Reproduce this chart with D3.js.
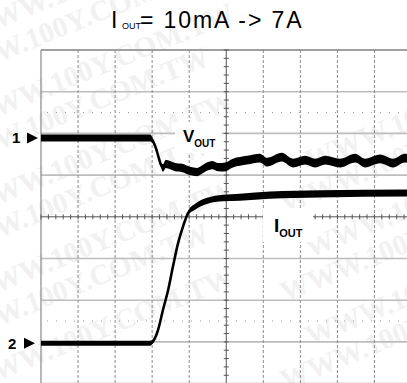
<!DOCTYPE html>
<html>
<head>
<meta charset="utf-8">
<script src="https://cdn.jsdelivr.net/npm/d3@7"></script>
<style>
  body { margin: 0; background: #fff; }
  svg { display: block; }
</style>
</head>
<body>
<svg id="scope"></svg>
<script>
// Scope capture: Vout / Iout load step, values in screen divisions

const W = 407, H = 383;

// grid: 10 horizontal divisions, 8 vertical (centre = 0)
const xDivs = d3.range(0, 11);
const yDivs = d3.range(-4, 5);
const dottedLevels = [2.5, -2.5];

// channel 1 (Vout), time in divisions, level in divisions, noise band p-p in divisions
const voutTime  = [0, 2.94, 3.02, 3.10, 3.18, 3.24, 3.29, 3.37, 3.48, 3.62, 3.81, 4.02, 4.21, 4.32, 4.45, 4.62, 4.78, 4.94, 5.18, 5.56, 5.91, 6.10, 6.50, 6.80, 7.13, 7.40, 7.67, 8.07, 8.48, 8.75, 9.15, 9.50, 9.82, 10.0];
const voutLevel = [1.89, 1.89, 1.82, 1.65, 1.41, 1.24, 1.17, 1.27, 1.24, 1.19, 1.17, 1.10, 1.07, 1.12, 1.19, 1.24, 1.19, 1.19, 1.29, 1.36, 1.41, 1.31, 1.43, 1.29, 1.36, 1.29, 1.36, 1.29, 1.41, 1.29, 1.39, 1.29, 1.41, 1.36];
const voutNoise = [0.17, 0.17, 0.12, 0.08, 0.08, 0.12, 0.18, 0.2, 0.2, 0.2, 0.2, 0.2, 0.2, 0.2, 0.2, 0.2, 0.2, 0.21, 0.21, 0.21, 0.21, 0.21, 0.21, 0.21, 0.21, 0.21, 0.21, 0.21, 0.21, 0.21, 0.21, 0.21, 0.21, 0.21];

// channel 2 (Iout)
const ioutTime  = [0, 2.94, 3.05, 3.16, 3.29, 3.43, 3.56, 3.70, 3.83, 3.97, 4.16, 4.48, 4.91, 5.37, 6.18, 7.53, 10.0];
const ioutLevel = [-3.03, -3.03, -2.95, -2.71, -2.24, -1.76, -1.20, -0.63, -0.24, 0.09, 0.24, 0.38, 0.45, 0.47, 0.52, 0.55, 0.57];
const ioutNoise = [0.12, 0.12, 0.08, 0.03, 0.02, 0.02, 0.02, 0.02, 0.04, 0.1, 0.14, 0.15, 0.16, 0.17, 0.17, 0.17, 0.17];

const channelMarks = [
  { label: '1', level: 1.89 },
  { label: '2', level: -3.03 }
];

const watermarkText = 'WWW.100Y.COM.TW';

const x = d3.scaleLinear().domain([0, 10]).range([41, 411.5]);
const y = d3.scaleLinear().domain([-4, 4]).range([383.6, 50]);

const svg = d3.select('#scope')
  .attr('width', W)
  .attr('height', H)
  .attr('viewBox', `0 0 ${W} ${H}`);

// faint watermark
const wm = svg.append('g').attr('class', 'watermark');
for (let r = 0; r < 10; r++) {
  for (let j = 0; j < 2; j++) {
    const x0 = -30 + j * 340 - (r % 2) * 25;
    const y0 = 40 + r * 44 + j * 130;
    if (y0 > H + 40) continue;
    wm.append('text')
      .attr('transform', `translate(${x0},${y0}) rotate(-22)`)
      .attr('font-family', 'Liberation Serif, serif')
      .attr('font-weight', 'bold')
      .attr('font-size', 29)
      .attr('fill', '#f1f1f1')
      .text(watermarkText);
  }
}

// grid
const grid = svg.append('g').attr('class', 'grid');

grid.selectAll('line.hgrid')
  .data(yDivs.filter(d => d !== 0 && d !== 4))
  .join('line')
  .attr('class', 'hgrid')
  .attr('x1', x(0)).attr('x2', W)
  .attr('y1', d => y(d)).attr('y2', d => y(d))
  .attr('stroke', '#bdbdbd')
  .attr('stroke-width', 1.6);

grid.append('line')
  .attr('x1', x(0)).attr('x2', W)
  .attr('y1', y(4)).attr('y2', y(4))
  .attr('stroke', '#a0a0a0')
  .attr('stroke-width', 2);

grid.selectAll('line.dotted')
  .data(dottedLevels)
  .join('line')
  .attr('class', 'dotted')
  .attr('x1', x(0) + 6).attr('x2', W)
  .attr('y1', d => y(d)).attr('y2', d => y(d))
  .attr('stroke', '#999')
  .attr('stroke-width', 1)
  .attr('stroke-dasharray', '1,8');

grid.selectAll('line.vgrid')
  .data(xDivs.filter(d => d !== 0 && d !== 5))
  .join('line')
  .attr('class', 'vgrid')
  .attr('x1', d => x(d)).attr('x2', d => x(d))
  .attr('y1', y(4)).attr('y2', H)
  .attr('stroke', '#8a8a8a')
  .attr('stroke-width', 1)
  .attr('stroke-dasharray', '3,2');

grid.append('line')
  .attr('x1', x(0)).attr('x2', x(0))
  .attr('y1', y(4)).attr('y2', H)
  .attr('stroke', '#888')
  .attr('stroke-width', 1.2);

// centre axes with minor ticks
grid.append('line')
  .attr('x1', x(5)).attr('x2', x(5))
  .attr('y1', y(4)).attr('y2', H)
  .attr('stroke', '#555')
  .attr('stroke-width', 1);
grid.append('line')
  .attr('x1', x(0)).attr('x2', W)
  .attr('y1', y(0)).attr('y2', y(0))
  .attr('stroke', '#555')
  .attr('stroke-width', 1);

const minorY = d3.range(-4, 4.01, 0.2);
grid.selectAll('line.ytick')
  .data(minorY)
  .join('line')
  .attr('class', 'ytick')
  .attr('x1', x(5) - 2.5).attr('x2', x(5) + 2.5)
  .attr('y1', d => y(d)).attr('y2', d => y(d))
  .attr('stroke', '#555');

const minorX = d3.range(0, 10.01, 0.2);
grid.selectAll('line.xtick')
  .data(minorX)
  .join('line')
  .attr('class', 'xtick')
  .attr('x1', d => x(d)).attr('x2', d => x(d))
  .attr('y1', y(0) - 2.5).attr('y2', y(0) + 2.5)
  .attr('stroke', '#555');

// label backgrounds
svg.append('rect').attr('x', 175).attr('y', 122).attr('width', 47).attr('height', 31).attr('fill', '#fff');
svg.append('rect').attr('x', 263).attr('y', 208).attr('width', 50).attr('height', 34).attr('fill', '#fff');

// traces
function drawTrace(times, levels, noise) {
  const pts = times.map((t, i) => ({ t, v: levels[i], n: noise[i] }));
  const band = d3.area()
    .x(d => x(d.t))
    .y0(d => y(d.v - d.n / 2))
    .y1(d => y(d.v + d.n / 2))
    .curve(d3.curveMonotoneX);
  const line = d3.line()
    .x(d => x(d.t))
    .y(d => y(d.v))
    .curve(d3.curveMonotoneX);
  svg.append('path').datum(pts).attr('d', band).attr('fill', '#000');
  svg.append('path').datum(pts).attr('d', line)
    .attr('fill', 'none').attr('stroke', '#000').attr('stroke-width', 2.6);
}
drawTrace(voutTime, voutLevel, voutNoise);
drawTrace(ioutTime, ioutLevel, ioutNoise);

// channel markers
const marks = svg.selectAll('g.mark')
  .data(channelMarks)
  .join('g')
  .attr('class', 'mark')
  .attr('transform', d => `translate(0,${y(d.level)})`);
marks.append('text')
  .attr('x', (d, i) => i === 0 ? 12 : 8)
  .attr('y', 5.5)
  .attr('font-family', 'Liberation Sans, Arial, sans-serif')
  .attr('font-size', 15)
  .attr('font-weight', 'bold')
  .text(d => d.label);
marks.append('path')
  .attr('d', (d, i) => {
    const x0 = i === 0 ? 27 : 24;
    return `M${x0},-5.5L${x0 + 11},0L${x0},5.5Z`;
  })
  .attr('fill', '#000');

// trace labels
function subLabel(px, py, main, sub, mainSize, subSize) {
  const t = svg.append('text')
    .attr('x', px).attr('y', py)
    .attr('font-family', 'Liberation Sans, Arial, sans-serif')
    .attr('font-weight', 'bold')
    .attr('font-size', mainSize);
  t.append('tspan').text(main);
  t.append('tspan').attr('dy', 5).attr('font-size', subSize).text(sub);
}
subLabel(183, 142, 'V', 'OUT', 17, 10);
subLabel(274, 232, 'I', 'OUT', 19, 11);

// title
const title = svg.append('text')
  .attr('y', 28)
  .attr('font-family', 'Liberation Sans, Arial, sans-serif')
  .attr('font-size', 23);
title.append('tspan').attr('x', 111).text('I');
title.append('tspan').attr('x', 122).attr('dy', 1).attr('font-size', 9).text('OUT');
title.append('tspan').attr('dy', -1).attr('x', 140)
  .attr('letter-spacing', 1.9)
  .text('= 10mA -> 7A');
</script>
</body>
</html>
